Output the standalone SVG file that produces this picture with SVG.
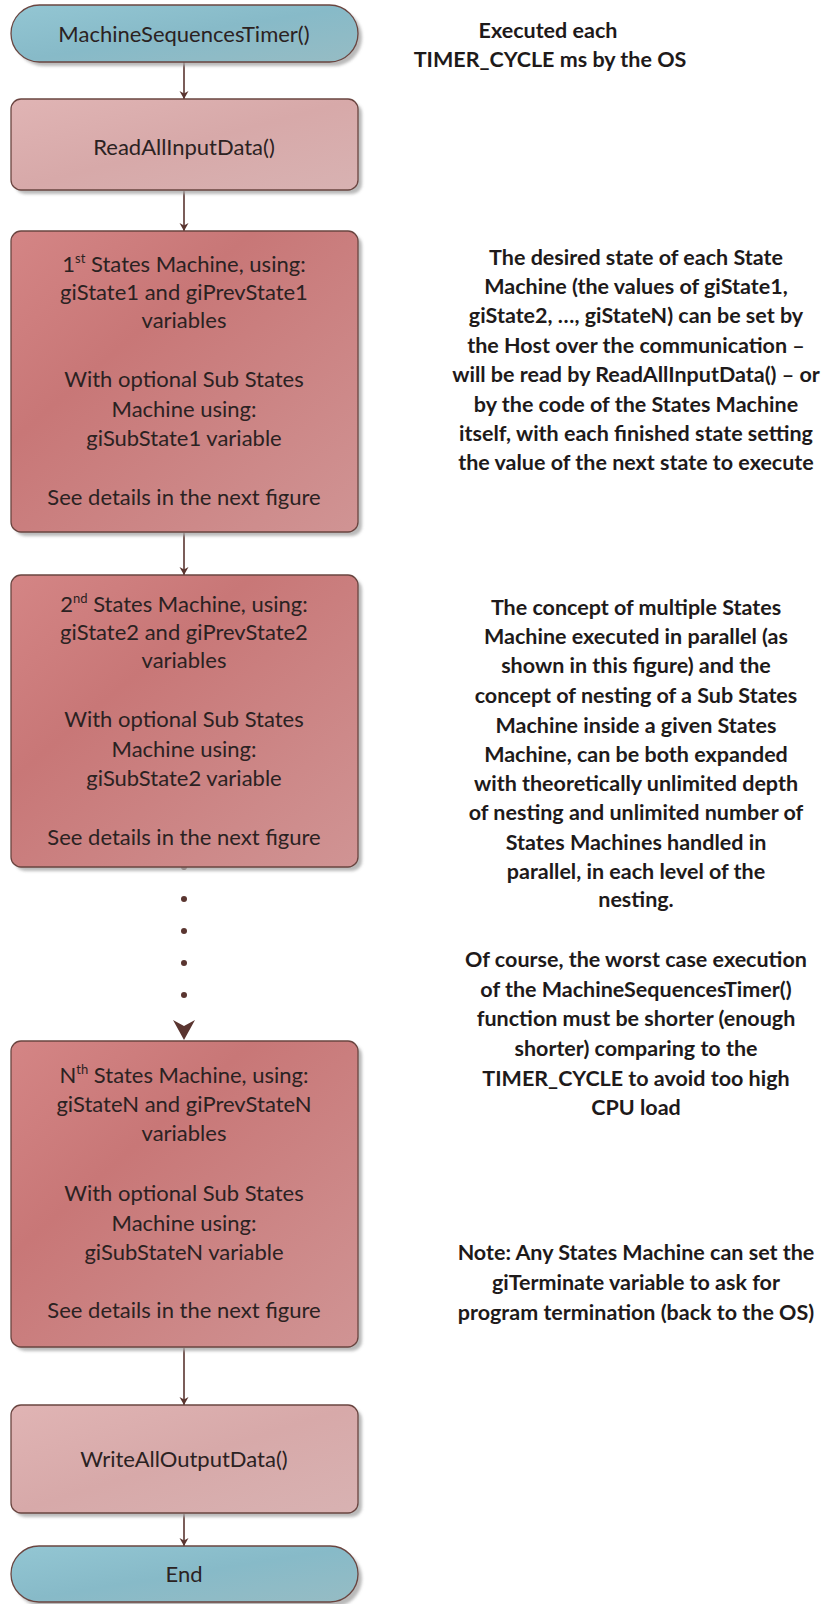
<svg xmlns="http://www.w3.org/2000/svg" width="832" height="1604" viewBox="0 0 832 1604">
  <defs>
    <linearGradient id="gBlue" x1="0" y1="0" x2="1" y2="1">
      <stop offset="0" stop-color="#93c6d3"/>
      <stop offset="0.5" stop-color="#87bac8"/>
      <stop offset="1" stop-color="#96bcc4"/>
    </linearGradient>
    <linearGradient id="gPink" x1="0" y1="0" x2="1" y2="1">
      <stop offset="0" stop-color="#e0b4b4"/>
      <stop offset="0.5" stop-color="#d7a9a9"/>
      <stop offset="1" stop-color="#d8b2b2"/>
    </linearGradient>
    <linearGradient id="gRed" x1="0" y1="0" x2="1" y2="1">
      <stop offset="0" stop-color="#d48585"/>
      <stop offset="0.35" stop-color="#c87777"/>
      <stop offset="1" stop-color="#d09494"/>
    </linearGradient>
    <filter id="shadow" x="-10%" y="-10%" width="120%" height="120%">
      <feGaussianBlur stdDeviation="1.5"/>
    </filter>
    <marker id="arrow" viewBox="-5 -5 10 10" markerWidth="10" markerHeight="10" refX="4" refY="0" orient="auto" markerUnits="userSpaceOnUse">
      <path d="M -4 -4.5 L -1.5 0 L -4 4.5 L 4 0 z" fill="#5a3530"/>
    </marker>
    <marker id="arrowBig" viewBox="-11 -11 22 22" markerWidth="22" markerHeight="22" refX="10" refY="0" orient="auto" markerUnits="userSpaceOnUse">
      <path d="M -10 -11 L -4 0 L -10 11 L 10 0 z" fill="#5a3530"/>
    </marker>
  </defs>
  <style>
    .shadow { fill: #a8a8a8; filter: url(#shadow); opacity: 0.8; }
    .box { stroke: #6a4540; stroke-width: 1.3; }
    .lbl { font-family: "Lato", "Noto Sans", sans-serif; font-size: 22px; fill: #2b2222; text-anchor: middle; }
    .note { font-family: "Lato", "Noto Sans", sans-serif; font-weight: bold; font-size: 21.5px; fill: #1e1a1a; text-anchor: middle; }
    .sup { font-size: 13px; }
    .conn { stroke: #5a3530; stroke-width: 1.6; fill: none; }
    .dot { fill: #5a3530; }
  </style>

  <rect width="832" height="1604" fill="#ffffff"/>

  <!-- connectors -->
  <g id="connectors">
    <line class="conn" x1="184" y1="62" x2="184" y2="99" marker-end="url(#arrow)"/>
    <line class="conn" x1="184" y1="191" x2="184" y2="231" marker-end="url(#arrow)"/>
    <line class="conn" x1="184" y1="533" x2="184" y2="575" marker-end="url(#arrow)"/>
    <circle class="dot" cx="184" cy="867" r="3"/>
    <circle class="dot" cx="184" cy="899" r="3"/>
    <circle class="dot" cx="184" cy="931" r="3"/>
    <circle class="dot" cx="184" cy="963" r="3"/>
    <circle class="dot" cx="184" cy="995" r="3"/>
    <line class="conn" x1="184" y1="1030" x2="184" y2="1040" stroke-opacity="0" marker-end="url(#arrowBig)"/>
    <line class="conn" x1="184" y1="1348" x2="184" y2="1405" marker-end="url(#arrow)"/>
    <line class="conn" x1="184" y1="1514" x2="184" y2="1546" marker-end="url(#arrow)"/>
  </g>

  <!-- start terminator -->
  <g id="start">
    <rect class="shadow" x="15" y="9" width="347" height="57" rx="28.5"/>
    <rect class="box" x="11" y="5" width="347" height="57" rx="28.5" fill="url(#gBlue)"/>
    <text class="lbl" x="184" y="42">MachineSequencesTimer()</text>
  </g>

  <!-- read inputs -->
  <g id="read-input">
    <rect class="shadow" x="15" y="103" width="347" height="91" rx="10"/>
    <rect class="box" x="11" y="99" width="347" height="91" rx="10" fill="url(#gPink)"/>
    <text class="lbl" x="184" y="155">ReadAllInputData()</text>
  </g>

  <!-- state machine 1 -->
  <g id="state-machine-1">
    <rect class="shadow" x="15" y="235" width="347" height="301" rx="10"/>
    <rect class="box" x="11" y="231" width="347" height="301" rx="10" fill="url(#gRed)"/>
    <text class="lbl" x="184" y="272">1<tspan class="sup" dy="-9">st</tspan><tspan dy="9"> States Machine, using:</tspan></text>
    <text class="lbl" x="184" y="300">giState1 and giPrevState1</text>
    <text class="lbl" x="184" y="328">variables</text>
    <text class="lbl" x="184" y="387">With optional Sub States</text>
    <text class="lbl" x="184" y="417">Machine using:</text>
    <text class="lbl" x="184" y="446">giSubState1 variable</text>
    <text class="lbl" x="184" y="505">See details in the next figure</text>
  </g>

  <!-- state machine 2 -->
  <g id="state-machine-2">
    <rect class="shadow" x="15" y="579" width="347" height="292" rx="10"/>
    <rect class="box" x="11" y="575" width="347" height="292" rx="10" fill="url(#gRed)"/>
    <text class="lbl" x="184" y="612">2<tspan class="sup" dy="-9">nd</tspan><tspan dy="9"> States Machine, using:</tspan></text>
    <text class="lbl" x="184" y="640">giState2 and giPrevState2</text>
    <text class="lbl" x="184" y="668">variables</text>
    <text class="lbl" x="184" y="727">With optional Sub States</text>
    <text class="lbl" x="184" y="757">Machine using:</text>
    <text class="lbl" x="184" y="786">giSubState2 variable</text>
    <text class="lbl" x="184" y="845">See details in the next figure</text>
  </g>

  <!-- state machine N -->
  <g id="state-machine-n">
    <rect class="shadow" x="15" y="1045" width="347" height="306" rx="10"/>
    <rect class="box" x="11" y="1041" width="347" height="306" rx="10" fill="url(#gRed)"/>
    <text class="lbl" x="184" y="1083">N<tspan class="sup" dy="-9">th</tspan><tspan dy="9"> States Machine, using:</tspan></text>
    <text class="lbl" x="184" y="1112">giStateN and giPrevStateN</text>
    <text class="lbl" x="184" y="1141">variables</text>
    <text class="lbl" x="184" y="1201">With optional Sub States</text>
    <text class="lbl" x="184" y="1231">Machine using:</text>
    <text class="lbl" x="184" y="1260">giSubStateN variable</text>
    <text class="lbl" x="184" y="1318">See details in the next figure</text>
  </g>

  <!-- write outputs -->
  <g id="write-output">
    <rect class="shadow" x="15" y="1409" width="347" height="108" rx="10"/>
    <rect class="box" x="11" y="1405" width="347" height="108" rx="10" fill="url(#gPink)"/>
    <text class="lbl" x="184" y="1467">WriteAllOutputData()</text>
  </g>

  <!-- end terminator -->
  <g id="end">
    <rect class="shadow" x="15" y="1550" width="347" height="57" rx="28.5"/>
    <rect class="box" x="11" y="1546" width="347" height="56" rx="28" fill="url(#gBlue)"/>
    <text class="lbl" x="184" y="1582">End</text>
  </g>

  <!-- side notes -->
  <g id="note-timer">
    <text class="note" x="548" y="38">Executed each</text>
    <text class="note" x="550" y="67">TIMER_CYCLE ms by the OS</text>
  </g>

  <g id="note-desired-state">
    <text class="note" x="636" y="265">The desired state of each State</text>
    <text class="note" x="636" y="294">Machine (the values of giState1,</text>
    <text class="note" x="636" y="323">giState2, …, giStateN) can be set by</text>
    <text class="note" x="636" y="353">the Host over the communication –</text>
    <text class="note" x="636" y="382">will be read by ReadAllInputData() – or</text>
    <text class="note" x="636" y="412">by the code of the States Machine</text>
    <text class="note" x="636" y="441">itself, with each finished state setting</text>
    <text class="note" x="636" y="470">the value of the next state to execute</text>
  </g>

  <g id="note-concept">
    <text class="note" x="636" y="615">The concept of multiple States</text>
    <text class="note" x="636" y="644">Machine executed in parallel (as</text>
    <text class="note" x="636" y="673">shown in this figure) and the</text>
    <text class="note" x="636" y="703">concept of nesting of a Sub States</text>
    <text class="note" x="636" y="733">Machine inside a given States</text>
    <text class="note" x="636" y="762">Machine, can be both expanded</text>
    <text class="note" x="636" y="791">with theoretically unlimited depth</text>
    <text class="note" x="636" y="820">of nesting and unlimited number of</text>
    <text class="note" x="636" y="850">States Machines handled in</text>
    <text class="note" x="636" y="879">parallel, in each level of the</text>
    <text class="note" x="636" y="907">nesting.</text>
  </g>

  <g id="note-worst-case">
    <text class="note" x="636" y="967">Of course, the worst case execution</text>
    <text class="note" x="636" y="997">of the MachineSequencesTimer()</text>
    <text class="note" x="636" y="1026">function must be shorter (enough</text>
    <text class="note" x="636" y="1056">shorter) comparing to the</text>
    <text class="note" x="636" y="1086">TIMER_CYCLE to avoid too high</text>
    <text class="note" x="636" y="1115">CPU load</text>
  </g>

  <g id="note-terminate">
    <text class="note" x="636" y="1260">Note: Any States Machine can set the</text>
    <text class="note" x="636" y="1290">giTerminate variable to ask for</text>
    <text class="note" x="636" y="1320">program termination (back to the OS)</text>
  </g>
</svg>
